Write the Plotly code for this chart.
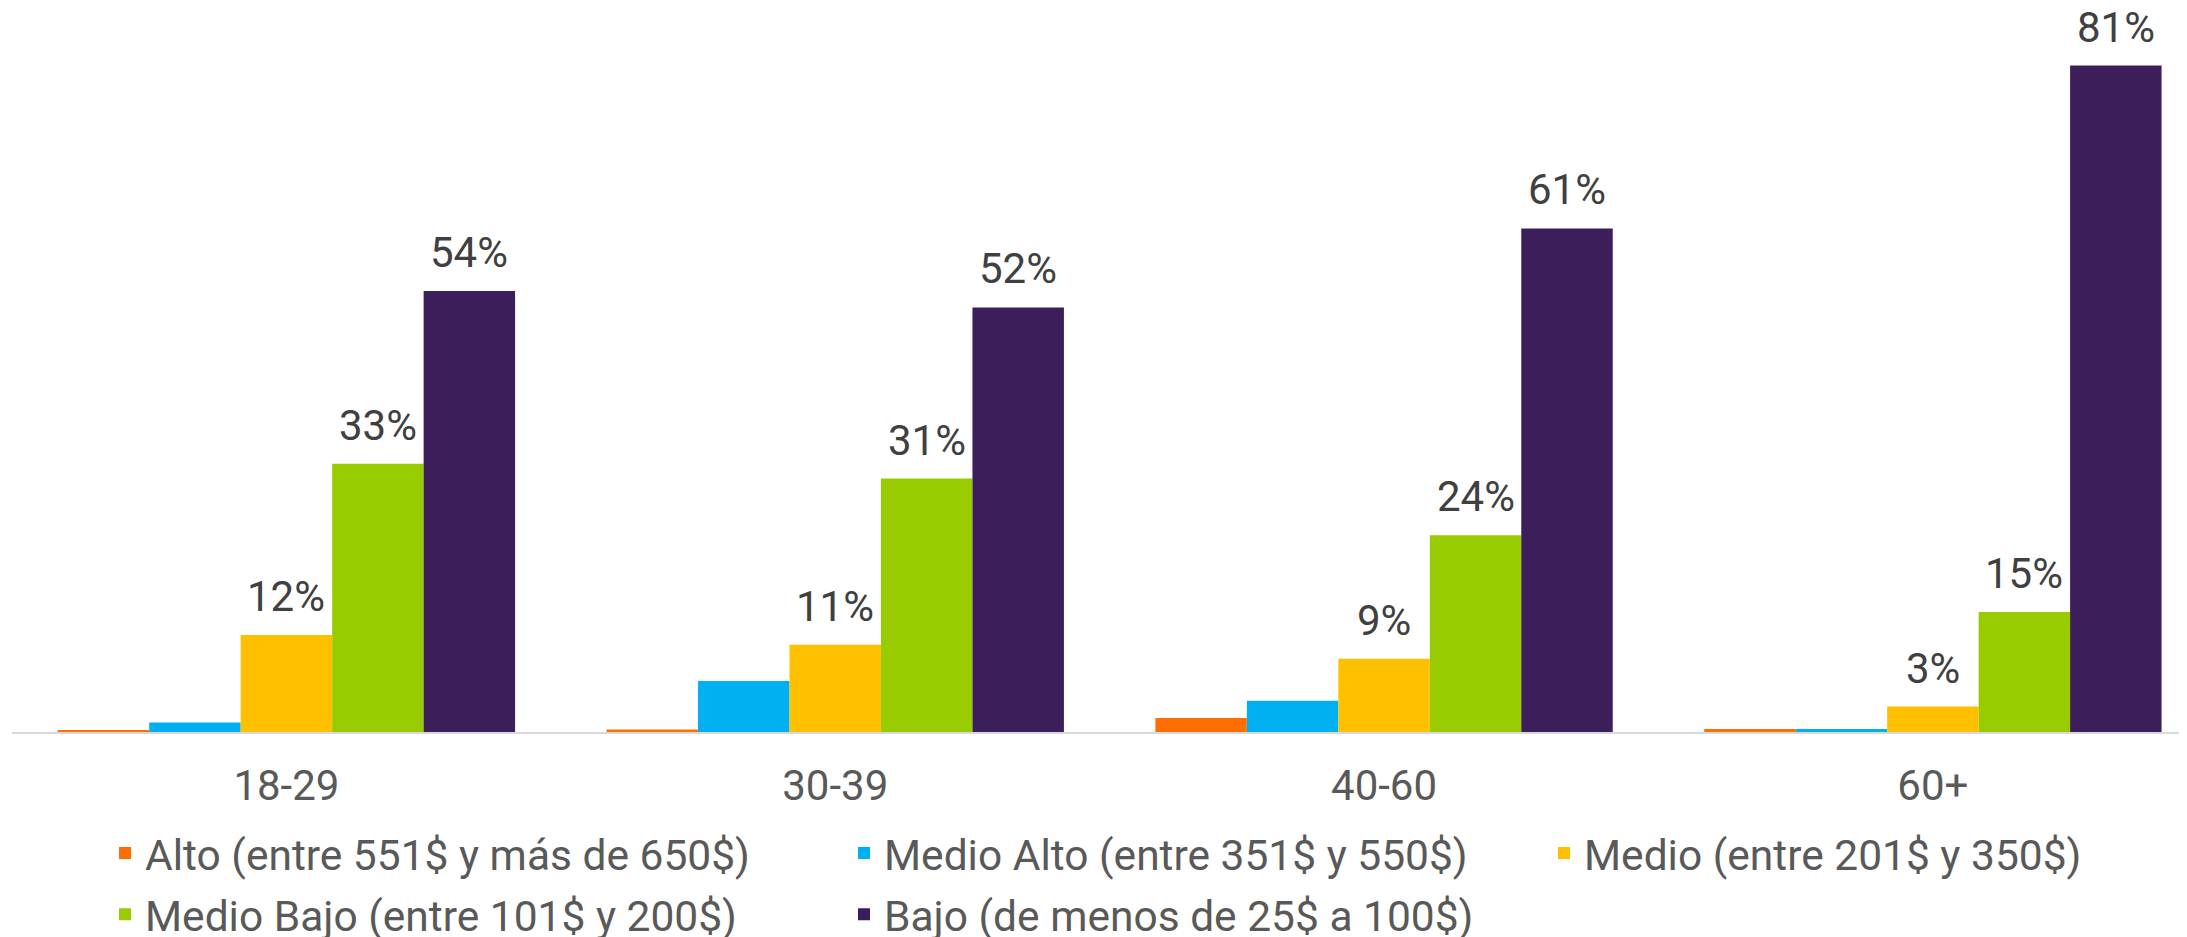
import plotly.graph_objects as go

categories = ["18-29", "30-39", "40-60", "60+"]

series_names = [
    "Alto (entre 551$ y más de 650$)",
    "Medio Alto (entre 351$ y 550$)",
    "Medio (entre 201$ y 350$)",
    "Medio Bajo (entre 101$ y 200$)",
    "Bajo (de menos de 25$ a 100$)",
]
alto = [0.2, 0.3, 1.7, 0.35]
medio_alto = [1.15, 6.2, 3.8, 0.35]
medio = [11.8, 10.6, 8.9, 3.1]
medio_bajo = [32.6, 30.8, 23.9, 14.6]
bajo = [53.6, 51.6, 61.2, 81.0]

colors = ["#FF6F00", "#00B0F0", "#FFC000", "#99CC00", "#3C1F5A"]
# only the three larger series carry data labels
labelled = [False, False, True, True, True]
# legend column for each series (Excel style 3-column legend)
legend_of = ["legend", "legend2", "legend3", "legend", "legend2"]

# the page body adds an 8px margin, so the margins below allow for it
W, H = 2187, 937
ML, MR, MT, MB = 4, 8, 0, 213
x_lo, x_hi = -0.5, 3.463
bargap = 1 / 6

plot_w = W - ML - MR
cat_px = plot_w / (x_hi - x_lo)
bar_px = cat_px * (1 - bargap) / len(series_names)

all_values = [alto, medio_alto, medio, medio_bajo, bajo]

data = []
annotations = []
for i, (name, vals) in enumerate(zip(series_names, all_values)):
    data.append(go.Bar(
        x=categories,
        y=vals,
        name=name,
        marker={"color": colors[i], "line": {"width": 0}},
        legend=legend_of[i],
        legendgroup=name,
    ))
    if labelled[i]:
        for cat, v in zip(categories, vals):
            annotations.append({
                "x": cat,
                "y": v,
                "xref": "x",
                "yref": "y",
                "text": f"{v:.0f}%",
                "showarrow": False,
                "yanchor": "bottom",
                "xshift": (i - 2) * bar_px,
                "yshift": 12,
                "font": {"family": "Roboto", "size": 42, "color": "#404040"},
            })

legend_font = {"family": "Roboto", "size": 42.5, "color": "#595959"}


def legend_box(px):
    return {
        "x": (px - ML) / plot_w,
        "y": -0.120,
        "xanchor": "left",
        "yanchor": "top",
        "orientation": "v",
        "font": legend_font,
        "bgcolor": "rgba(0,0,0,0)",
        "tracegroupgap": 3,
        "itemwidth": 30,
    }


layout = go.Layout(
    width=W,
    height=H,
    margin={"l": ML, "r": MR, "t": MT, "b": MB, "autoexpand": False},
    paper_bgcolor="white",
    plot_bgcolor="white",
    barmode="group",
    bargap=bargap,
    bargroupgap=0,
    xaxis={
        "range": [x_lo, x_hi],
        "showline": True,
        "linecolor": "#D9D9D9",
        "linewidth": 2,
        "showgrid": False,
        "ticks": "",
        "ticklabelstandoff": 16,
        "tickfont": {"family": "Roboto", "size": 42, "color": "#595959"},
    },
    yaxis={
        "range": [0, 88.0],
        "visible": False,
        "showgrid": False,
        "zeroline": False,
    },
    legend=legend_box(97),
    legend2=legend_box(836),
    legend3=legend_box(1536),
    annotations=annotations,
    showlegend=True,
)

fig = go.Figure(data=data, layout=layout)
fig.write_html("out.html")
